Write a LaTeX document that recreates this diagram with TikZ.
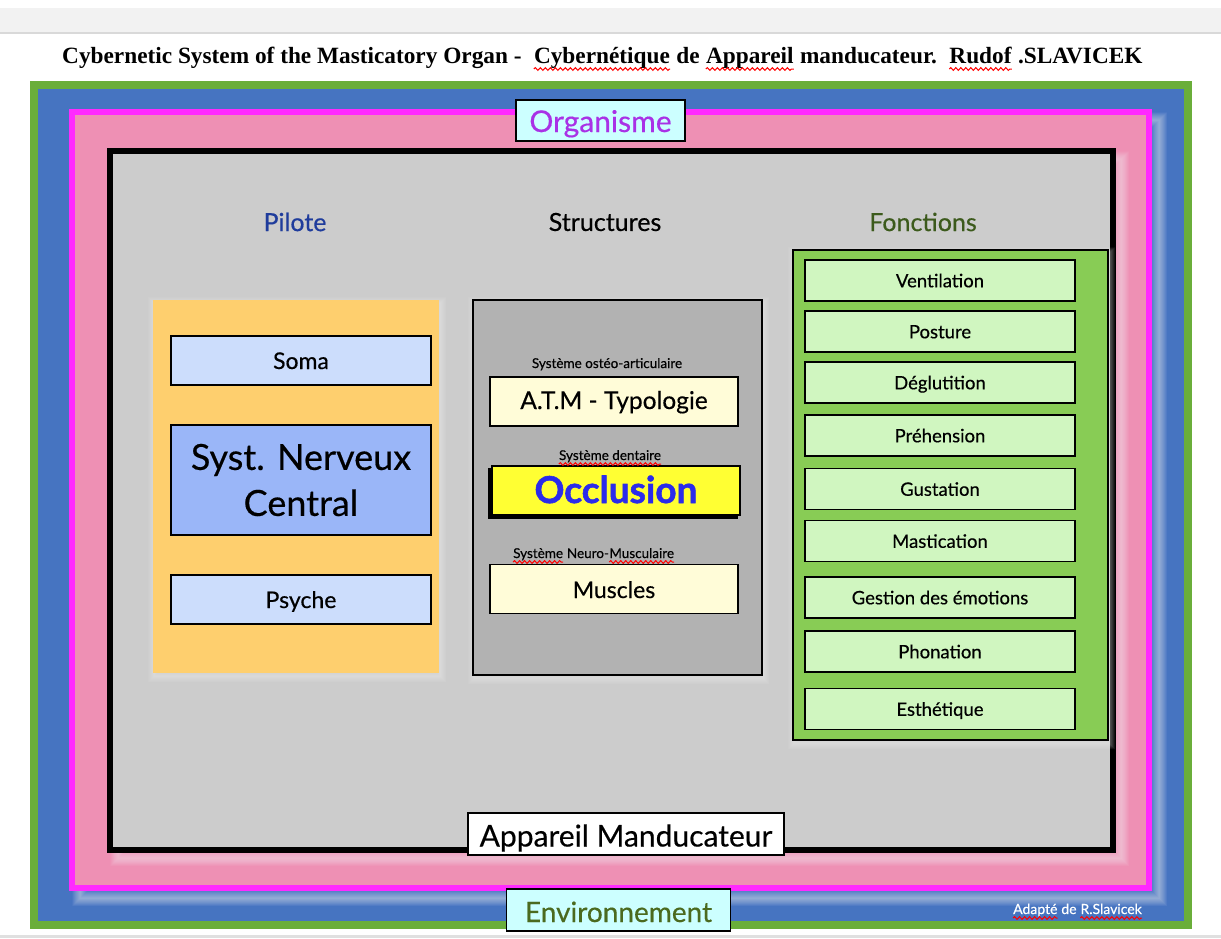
\documentclass[tikz,border=0pt]{standalone}
\usepackage{fontspec}
\setmainfont{Liberation Serif}
\newfontfamily\gill{Lato}[UprightFeatures={FakeBold=0.4}, BoldFeatures={FakeBold=1.5}]
\usetikzlibrary{positioning,decorations.pathmorphing}

\definecolor{gborder}{HTML}{6AAE3A}
\definecolor{envblue}{HTML}{4674C1}
\definecolor{magborder}{HTML}{FF2AFF}
\definecolor{orgpink}{HTML}{EE90B4}
\definecolor{appgrey}{HTML}{CCCCCC}
\definecolor{labcyan}{HTML}{CCFFFF}
\definecolor{orgpurple}{HTML}{A931E6}
\definecolor{pilblue}{HTML}{1F3C9C}
\definecolor{fctolive}{HTML}{3C5A1C}
\definecolor{envolive}{HTML}{4B6A1F}
\definecolor{pilorange}{HTML}{FECF6E}
\definecolor{somablue}{HTML}{CCDDFC}
\definecolor{sncblue}{HTML}{9AB6F8}
\definecolor{strgrey}{HTML}{B2B2B2}
\definecolor{cream}{HTML}{FFFCD8}
\definecolor{occyellow}{HTML}{FFFF33}
\definecolor{occblue}{HTML}{2B2BEA}
\definecolor{fctgreen}{HTML}{88CC55}
\definecolor{fctlight}{HTML}{D0F6C0}

\tikzset{
  box/.style={draw=black, line width=1.5pt, inner sep=0pt, font=\gill\fontsize{23}{27}\selectfont},
  pilbox/.style={box, fill=somablue, minimum width=260pt, minimum height=49pt, text height=17pt, text depth=0pt},
  strbox/.style={box, fill=cream, minimum width=248pt, minimum height=49pt, text height=17pt, text depth=0pt},
  fctbox/.style={box, fill=fctlight, minimum width=270pt, minimum height=41pt, text height=13.6pt, text depth=0pt,
                 font=\gill\fontsize{18.5}{22}\selectfont},
  tag/.style={box, minimum height=41pt, text height=25pt, text depth=0pt, font=\gill\fontsize{30}{34}\selectfont},
  head/.style={font=\gill\fontsize{25}{29}\selectfont},
  small/.style={inner sep=0pt, font=\gill\fontsize{13.5}{15}\selectfont},
  ttl/.style={inner sep=0pt, font=\bfseries\fontsize{23.3}{27}\selectfont},
  squig/.style={draw=red, line width=1pt, decorate, decoration={snake, amplitude=1.4pt, segment length=5pt}}
}

\begin{document}
\begin{tikzpicture}[x=1pt,y=-1pt]
  \useasboundingbox (0,0) rectangle (1221,938);
  \fill[white] (0,0) rectangle (1221,938);
  % top band and bottom line
  \fill[black!5] (0,8) rectangle (1221,33);
  \draw[black!15, line width=1.5pt] (0,33) -- (1221,33);
  \draw[black!12, line width=3pt] (0,936) -- (1221,936);

  % title
  \node[ttl, anchor=base west] (t1) at (62,63) {Cybernetic System of the Masticatory Organ -};
  \node[ttl, base right=12pt of t1] (t2) {Cybernétique};
  \node[ttl, base right=6pt of t2] (t3) {de};
  \node[ttl, base right=6pt of t3] (t4) {Appareil};
  \node[ttl, base right=6pt of t4] (t5) {manducateur.};
  \node[ttl, base right=12pt of t5] (t6) {Rudof};
  \node[ttl, base right=6pt of t6] (t7) {.SLAVICEK};
  \foreach \w in {t2,t4,t6}
    \draw[squig] ([yshift=-6pt]\w.base west) -- ([yshift=-6pt]\w.base east);

  % Environnement
  \draw[gborder, line width=8pt, fill=envblue] (34,85) rectangle (1188,925);
  \foreach \k in {1,...,16}
    \draw[white, opacity=0.035, line width=\k*1pt] (80,120) rectangle (1159,898);
  % Organisme
  \draw[magborder, line width=6pt, fill=orgpink] (72,112) rectangle (1149,888);
  \foreach \k in {1,...,16}
    \draw[white, opacity=0.035, line width=\k*1pt] (118,159) rectangle (1121,858);
  % Appareil manducateur
  \draw[black, line width=6pt, fill=appgrey] (110,151) rectangle (1113,850);

  % glow of the three columns
  \foreach \a/\b/\c/\d in {153/300/439/673, 473/300/762/675, 793/250/1108/740}
    \foreach \k in {1,...,12}
      \draw[white, opacity=0.04, line width=\k*1pt] (\a+1,\b+3) rectangle (\c+1,\d+3);

  % headings
  \node[head, text=pilblue] (pil) at (295,222) {Pilote};
  \node[head] (str) at (605,222) {Structures};
  \node[head, text=fctolive] (fct) at (923,222) {Fonctions};

  % Pilote
  \fill[pilorange] (153,300) rectangle (439,673);
  \node[pilbox] (soma) at (301,360.5) {Soma};
  \node[pilbox, fill=sncblue, minimum height=110pt, align=center, text height=, text depth=,
        font=\gill\fontsize{36}{46}\selectfont] (snc) at (301,480) {Syst. Nerveux\\Central};
  \node[pilbox] (psy) at (301,599.5) {Psyche};

  % Structures
  \draw[black, line width=1.5pt, fill=strgrey] (473,300) rectangle (762,675);
  \node[strbox, text height=15pt, font=\gill\fontsize{24.5}{28}\selectfont] (atm) at (614,401.5) {A.T.M - Typologie};
  \node[small, anchor=base] (osteo) at (607,368) {Système ostéo-articulaire};
  \fill[black] (488,468) rectangle (738,519);
  \node[box, fill=occyellow, minimum width=248pt, minimum height=49pt, text=occblue,
        text height=25pt, text depth=0pt,
        font=\gill\bfseries\fontsize{37}{40}\selectfont] (occ) at (616,490.5) {Occlusion};
  \node[small, anchor=base] (dent) at (610,460) {Système dentaire};
  \node[strbox, text height=18pt] (musc) at (614,589) {Muscles};
  \node[small, anchor=base west] (neuro1) at (513,558) {Système};
  \node[small, base right=3.5pt of neuro1] (neuro2) {Neuro-};
  \node[small, base right=0pt of neuro2] (neuro3) {Musculaire};
  \foreach \w in {dent,neuro1,neuro3}
    \draw[squig] ([yshift=-4pt]\w.base west) -- ([yshift=-4pt]\w.base east);

  % Fonctions
  \draw[black, line width=1.5pt, fill=fctgreen] (793,250) rectangle (1108,740);
  \foreach \n/\y/\t in {vent/280.5/Ventilation, post/331.5/Posture, deg/382.5/Déglutition,
                       preh/435.5/Préhension, gust/489/Gustation, mast/541/Mastication,
                       emo/597.5/Gestion des émotions, phon/651.5/Phonation, esth/709/Esthétique}
    \node[fctbox] (\n) at (940,\y) {\t};

  % labels of the frames
  \node[tag, fill=labcyan, minimum width=169pt, text=orgpurple, text height=23pt] (org) at (600.5,120.5) {Organisme};
  \node[tag, fill=white, minimum width=316pt, minimum height=42pt] (app) at (626,834) {Appareil Manducateur};
  \node[tag, fill=labcyan, minimum width=224pt, minimum height=42pt, text=envolive, text height=24pt,
        font=\gill\fontsize{28}{32}\selectfont] (env) at (618.5,910) {Environnement};

  % credit
  \node[small, text=white, font=\gill\fontsize{14}{16}\selectfont, anchor=base west] (ad1) at (1013,914) {Adapté};
  \node[small, text=white, font=\gill\fontsize{14}{16}\selectfont, base right=3.5pt of ad1] (ad2) {de};
  \node[small, text=white, font=\gill\fontsize{14}{16}\selectfont, base right=3.5pt of ad2] (ad3) {R.Slavicek};
  \foreach \w in {ad1,ad3}
    \draw[squig] ([yshift=-4pt]\w.base west) -- ([yshift=-4pt]\w.base east);
\end{tikzpicture}
\end{document}
